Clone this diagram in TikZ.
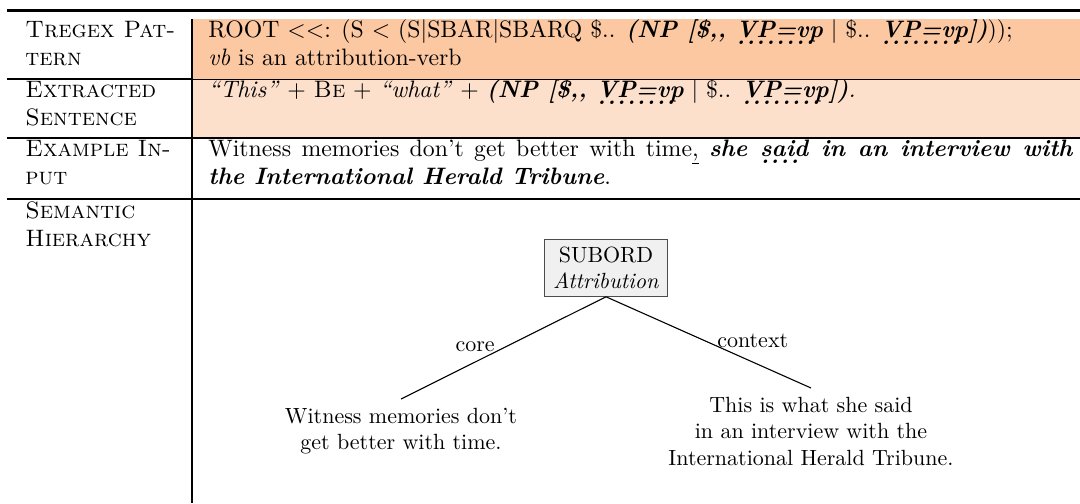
\documentclass[tikz,border=0pt]{standalone}
\definecolor{rowA}{RGB}{252,200,162}
\definecolor{rowB}{RGB}{252,224,204}
\definecolor{boxfill}{RGB}{240,240,240}
\newcommand\dotul[1]{\leavevmode\setbox0\hbox{#1}\rlap{\hbox to \wd0{\leaders\hbox to 4.5pt{\hss\lower3.6pt\hbox{.}\hss}\hfill}}\box0\relax}
\newcommand\ulin[1]{\underline{#1}}
\newcommand\tabfont{\fontsize{10.8}{12.96}\selectfont}
\begin{document}
\begin{tikzpicture}[x=0.4545pt,y=-0.4545pt,
  txt/.style={anchor=base west,inner sep=0pt,font=\tabfont},
  heavyrule/.style={line width=1.2pt},
  midrule/.style={line width=0.75pt},
  thinrule/.style={line width=0.45pt},
  rootbox/.style={draw=black!70,fill=boxfill,align=center,inner xsep=4pt,inner ysep=3.3pt,line width=0.5pt,anchor=north},
  leaf/.style={align=center,inner sep=4pt,anchor=north},
  edgeline/.style={line width=0.5pt},
  lbl/.style={inner sep=0pt}]
\useasboundingbox (0,0) rectangle (1080,503);
% fills
\fill[rowA] (192,19) rectangle (1080,79);
\fill[rowB] (192,79) rectangle (1080,138);
% rules
\draw[heavyrule] (7,10.5) -- (1080,10.5);
\draw[midrule] (7,79) -- (192,79);
\draw[thinrule] (192,79) -- (1080,79);
\draw[midrule] (7,138) -- (1080,138);
\draw[midrule] (7,199) -- (1080,199);
\draw[midrule] (192,19) -- (192,503);
% left column
\node[txt] (h1a) at (25,37) {\textsc{Tregex Pat-}};
\node[txt] (h1b) at (25,65.5) {\textsc{tern}};
\node[txt] (h2a) at (25,97) {\textsc{Extracted}};
\node[txt] (h2b) at (25,125.5) {\textsc{Sentence}};
\node[txt] (h3a) at (25,156) {\textsc{Example In-}};
\node[txt] (h3b) at (25,184.5) {\textsc{put}};
\node[txt] (h4a) at (25,218) {\textsc{Semantic}};
\node[txt] (h4b) at (25,246.5) {\textsc{Hierarchy}};
% right column
\node[txt] (r1a) at (208,37) {ROOT <{}<: (S < (S|SBAR|SBARQ \$.. \textbf{\textit{(NP [\$,{}, \dotul{VP=vp}}} | \$.. \textbf{\textit{\dotul{VP=vp}])}}));};
\node[txt] (r1b) at (208,65.5) {\textit{vb} is an attribution-verb};
\node[txt] (r2a) at (208,97) {\textit{“This”} + \textsc{Be} + \textit{“what”} + \textbf{\textit{(NP [\$,{}, \dotul{VP=vp}}} | \$.. \textbf{\textit{\dotul{VP=vp}])}}\textit{.}};
\node[txt] (r3a) at (208,156) {\hbox to 393.1pt{Witness memories don’t get better with time\ulin{,} \textbf{\textit{she \dotul{said} in an interview with}}}};
\node[txt] (r3b) at (208,184.5) {\textbf{\textit{the International Herald Tribune}}.};
% tree
\node[rootbox] (root) at (606,239) {SUBORD\\\textit{Attribution}};
\node[leaf] (left) at (401,399) {Witness memories don’t\\get better with time.};
\node[leaf] (right) at (811,388) {This is what she said\\in an interview with the\\International Herald Tribune.};
\draw[edgeline] (root.south) -- node[lbl,pos=0.54,anchor=south east] (core) {core} (left.north);
\draw[edgeline] (root.south) -- node[lbl,pos=0.54,anchor=south west,yshift=-1.2pt] (ctx) {context} (right.north);
\end{tikzpicture}
\end{document}
